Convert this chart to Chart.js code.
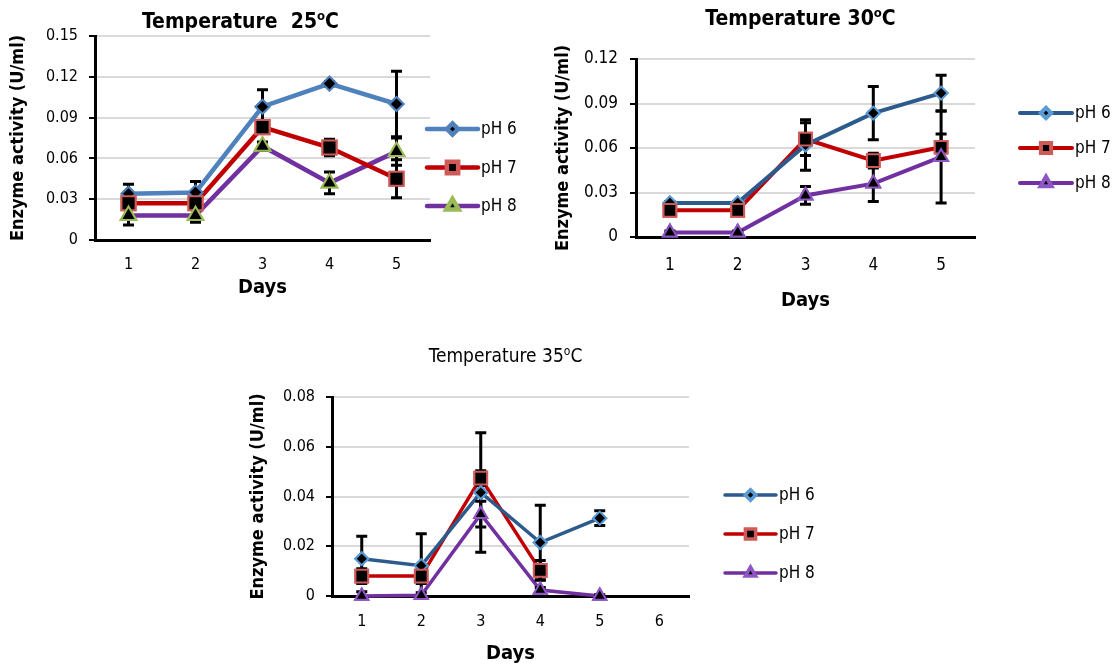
<!DOCTYPE html>
<html lang="en">
  <head>
    <meta charset="UTF-8" />
    <title>Enzyme activity by temperature</title>
    <script src="https://cdn.jsdelivr.net/npm/chart.js"></script>
    <style>
      body {
        margin: 0;
        background: #ffffff;
      }
      .page {
        position: relative;
        width: 1118px;
        height: 666px;
      }
      .page canvas {
        position: absolute;
      }
      #c25 { left: 0; top: 0; }
      #c30 { left: 545px; top: 0; }
      #c35 { left: 240px; top: 333px; }
    </style>
  </head>
  <body>
    <div class="page">
      <canvas id="c25" width="545" height="300"></canvas>
      <canvas id="c30" width="573" height="320"></canvas>
      <canvas id="c35" width="580" height="333"></canvas>
    </div>

    <script>
      // ---- data ----
      const days5 = ["1", "2", "3", "4", "5"];
      const days6 = ["1", "2", "3", "4", "5", "6"];
      const seriesNames = ["pH 6", "pH 7", "pH 8"];

      // 25 C
      const ph6_25 = [0.034, 0.035, 0.098, 0.115, 0.1];
      const err6_25 = [0.007, 0.008, 0.0125, 0.0015, 0.024];
      const ph7_25 = [0.027, 0.027, 0.083, 0.068, 0.045];
      const err7_25 = [0.001, 0.001, 0.0045, 0.006, 0.014];
      const ph8_25 = [0.018, 0.018, 0.069, 0.042, 0.065];
      const err8_25 = [0.007, 0.005, 0.003, 0.008, 0.01];
      const yTicks25 = [0, 0.03, 0.06, 0.09, 0.12, 0.15];

      // 30 C
      const ph6_30 = [0.023, 0.023, 0.062, 0.0835, 0.097];
      const err6_30 = [0.001, 0.001, 0.017, 0.018, 0.012];
      const ph7_30 = [0.018, 0.018, 0.066, 0.0515, 0.0605];
      const err7_30 = [0.001, 0.001, 0.011, 0.005, 0.009];
      const ph8_30 = [0.003, 0.003, 0.028, 0.036, 0.054];
      const err8_30 = [0.001, 0.001, 0.006, 0.012, 0.031];
      const yTicks30 = [0, 0.03, 0.06, 0.09, 0.12];

      // 35 C
      const ph6_35 = [0.015, 0.0122, 0.0416, 0.0215, 0.0313, null];
      const err6_35 = [0.009, 0.0128, 0.024, 0.015, 0.003, null];
      const ph7_35 = [0.008, 0.008, 0.0474, 0.0103, null, null];
      const err7_35 = [0.003, 0.003, 0.003, 0.004, null, null];
      const ph8_35 = [0, 0.0003, 0.0329, 0.0024, 0, null];
      const err8_35 = [0.0017, 0.001, 0.0052, 0.001, 0.0005, null];
      const yTicks35 = [0, 0.02, 0.04, 0.06, 0.08];

      const title25 = ["Temperature  25", "o", "C"];
      const title30 = ["Temperature 30", "o", "C"];
      const title35 = ["Temperature 35", "o", "C"];

      const FONT = "'Liberation Sans Narrow', 'DejaVu Sans Condensed', 'Liberation Sans', sans-serif";
      Chart.defaults.font.family = FONT;
      Chart.defaults.color = "#000";

      // error bars, then markers again so they sit on top
      const errorBars = {
        id: "errorBars",
        afterDatasetsDraw(chart) {
          const ctx = chart.ctx;
          const y = chart.scales.y;
          ctx.save();
          ctx.strokeStyle = "#000";
          ctx.lineWidth = 3;
          chart.data.datasets.forEach((ds, i) => {
            const meta = chart.getDatasetMeta(i);
            meta.data.forEach((pt, j) => {
              const v = ds.data[j];
              const e = ds.errors ? ds.errors[j] : null;
              if (v == null || !e) return;
              const x = pt.x;
              const top = y.getPixelForValue(v + e);
              const clipped = v - e < y.min;
              const bot = y.getPixelForValue(clipped ? y.min : v - e);
              ctx.beginPath();
              ctx.moveTo(x, top);
              ctx.lineTo(x, bot);
              ctx.moveTo(x - 5.5, top);
              ctx.lineTo(x + 5.5, top);
              if (!clipped) {
                ctx.moveTo(x - 5.5, bot);
                ctx.lineTo(x + 5.5, bot);
              }
              ctx.stroke();
            });
          });
          ctx.restore();
          chart.data.datasets.forEach((ds, i) => {
            chart.getDatasetMeta(i).data.forEach((pt) => pt.draw(ctx));
          });
        },
      };

      // title with a raised "o"
      const sketchTitle = {
        id: "sketchTitle",
        afterDraw(chart, args, opts) {
          const ctx = chart.ctx;
          const [main, sup, tail] = opts.parts;
          const f = opts.size;
          const w = opts.bold ? "bold " : "";
          const big = w + f + "px " + FONT;
          const small = w + Math.round(f * 0.62) + "px " + FONT;
          ctx.save();
          ctx.font = big;
          const w1 = ctx.measureText(main).width;
          const w3 = ctx.measureText(tail).width;
          ctx.font = small;
          const w2 = ctx.measureText(sup).width;
          const area = chart.chartArea;
          let x = (area.left + area.right) / 2 + opts.dx - (w1 + w2 + w3) / 2;
          ctx.fillStyle = "#000";
          ctx.textBaseline = "alphabetic";
          ctx.textAlign = "left";
          ctx.font = big;
          ctx.fillText(main, x, opts.baseline);
          x += w1;
          ctx.font = small;
          ctx.fillText(sup, x, opts.baseline - f * 0.38);
          x += w2;
          ctx.font = big;
          ctx.fillText(tail, x, opts.baseline);
          ctx.restore();
        },
      };

      // legend: line with marker, label to the right
      const sideLegend = {
        id: "sideLegend",
        afterDraw(chart, args, opts) {
          const ctx = chart.ctx;
          ctx.save();
          chart.data.datasets.forEach((ds, i) => {
            const y = opts.top + i * opts.gap;
            const x0 = opts.left;
            const x1 = x0 + opts.lineLength;
            ctx.strokeStyle = ds.borderColor;
            ctx.lineWidth = ds.borderWidth;
            ctx.lineCap = "round";
            ctx.beginPath();
            ctx.moveTo(x0, y);
            ctx.lineTo(x1, y);
            ctx.stroke();
            ctx.fillStyle = ds.pointBackgroundColor;
            ctx.strokeStyle = ds.pointBorderColor;
            Chart.helpers.drawPoint(
              ctx,
              {
                pointStyle: ds.pointStyle,
                radius: ds.pointRadius * 0.8,
                borderWidth: ds.pointBorderWidth,
                rotation: 0,
              },
              (x0 + x1) / 2,
              y
            );
            ctx.fillStyle = "#000";
            ctx.font = opts.size + "px " + FONT;
            ctx.textBaseline = "middle";
            ctx.textAlign = "left";
            ctx.fillText(ds.label, x1 + 3, y + 1);
          });
          ctx.restore();
        },
      };

      function makeSeries(label, data, errors, style) {
        return Object.assign(
          {
            label: label,
            data: data,
            errors: errors,
            pointBackgroundColor: "#000",
            pointBorderWidth: 2,
            tension: 0,
            clip: false,
            spanGaps: false,
          },
          style
        );
      }

      function makeChart(id, cfg) {
        new Chart(document.getElementById(id), {
          type: "line",
          data: { labels: cfg.labels, datasets: cfg.datasets },
          plugins: [errorBars, sketchTitle, sideLegend],
          options: {
            responsive: false,
            animation: false,
            layout: { padding: { top: cfg.top, right: cfg.right, left: 0, bottom: 0 } },
            plugins: {
              legend: { display: false },
              title: { display: false },
              tooltip: { enabled: false },
              sketchTitle: cfg.title,
              sideLegend: cfg.legend,
            },
            scales: {
              x: {
                offset: true,
                grid: { display: false, drawTicks: false },
                border: { display: true, color: "#000", width: 3 },
                ticks: { padding: cfg.xPad, font: { size: cfg.tickSize } },
                title: {
                  display: true,
                  text: "Days",
                  font: { size: 20, weight: "bold" },
                  padding: { top: 0, bottom: cfg.daysPad },
                },
                afterFit(scale) {
                  scale.height = cfg.xHeight;
                },
              },
              y: {
                min: 0,
                max: cfg.yTicks[cfg.yTicks.length - 1],
                afterBuildTicks(scale) {
                  scale.ticks = cfg.yTicks.map((v) => ({ value: v }));
                },
                grid: {
                  color: "#d9d9d9",
                  lineWidth: 2,
                  tickColor: "#000",
                  tickLength: 6,
                  tickWidth: 2,
                },
                border: { display: true, color: "#000", width: 3 },
                ticks: {
                  padding: cfg.yPad,
                  font: { size: cfg.tickSize },
                  callback: (v) => (v === 0 ? "0" : v.toFixed(2)),
                },
                title: {
                  display: true,
                  text: "Enzyme activity (U/ml)",
                  font: { size: 18, weight: "bold" },
                  padding: { top: 8, bottom: 0 },
                },
                afterFit(scale) {
                  scale.width = cfg.yWidth;
                },
              },
            },
          },
        });
      }

      // 25 C: lighter blue, green-edged triangles
      makeChart("c25", {
        labels: days5,
        yTicks: yTicks25,
        top: 36,
        right: 115,
        yWidth: 95,
        xHeight: 60,
        xPad: 15,
        daysPad: 0,
        yPad: 11,
        tickSize: 16,
        title: { parts: title25, size: 21, bold: true, dx: -22, baseline: 28 },
        legend: { left: 427, top: 129, gap: 38.5, lineLength: 51, size: 17 },
        datasets: [
          makeSeries(seriesNames[0], ph6_25, err6_25, {
            borderColor: "#4f81bd", borderWidth: 4.5,
            pointStyle: "rectRot", pointRadius: 7, pointBorderColor: "#4f81bd",
          }),
          makeSeries(seriesNames[1], ph7_25, err7_25, {
            borderColor: "#c00000", borderWidth: 4.5,
            pointStyle: "rect", pointRadius: 10, pointBorderColor: "#d05a58",
          }),
          makeSeries(seriesNames[2], ph8_25, err8_25, {
            borderColor: "#7030a0", borderWidth: 4.5,
            pointStyle: "triangle", pointRadius: 9, pointBorderColor: "#9bbb59",
          }),
        ],
      });

      // 30 C
      makeChart("c30", {
        labels: days5,
        yTicks: yTicks30,
        top: 59,
        right: 143,
        yWidth: 91,
        xHeight: 83,
        xPad: 18,
        daysPad: 7,
        yPad: 12,
        tickSize: 17,
        title: { parts: title30, size: 21, bold: true, dx: -5, baseline: 25 },
        legend: { left: 475, top: 113, gap: 35, lineLength: 52, size: 17 },
        datasets: [
          makeSeries(seriesNames[0], ph6_30, err6_30, {
            borderColor: "#2c5a8c", borderWidth: 4,
            pointStyle: "rectRot", pointRadius: 6.5, pointBorderColor: "#5b9bd5",
          }),
          makeSeries(seriesNames[1], ph7_30, err7_30, {
            borderColor: "#c00000", borderWidth: 4,
            pointStyle: "rect", pointRadius: 9, pointBorderColor: "#d05a58",
          }),
          makeSeries(seriesNames[2], ph8_30, err8_30, {
            borderColor: "#7030a0", borderWidth: 4,
            pointStyle: "triangle", pointRadius: 8, pointBorderColor: "#8e55c4",
          }),
        ],
      });

      // 35 C
      makeChart("c35", {
        labels: days6,
        yTicks: yTicks35,
        top: 64,
        right: 131,
        yWidth: 92,
        xHeight: 70,
        xPad: 16,
        daysPad: 0,
        yPad: 11,
        tickSize: 16,
        title: { parts: title35, size: 19, bold: false, dx: -5, baseline: 29 },
        legend: { left: 485, top: 162, gap: 39, lineLength: 51, size: 17 },
        datasets: [
          makeSeries(seriesNames[0], ph6_35, err6_35, {
            borderColor: "#2c5a8c", borderWidth: 3.5,
            pointStyle: "rectRot", pointRadius: 6.5, pointBorderColor: "#5b9bd5",
          }),
          makeSeries(seriesNames[1], ph7_35, err7_35, {
            borderColor: "#c00000", borderWidth: 3.5,
            pointStyle: "rect", pointRadius: 9, pointBorderColor: "#d05a58",
          }),
          makeSeries(seriesNames[2], ph8_35, err8_35, {
            borderColor: "#7030a0", borderWidth: 3.5,
            pointStyle: "triangle", pointRadius: 7.5, pointBorderColor: "#8e55c4",
          }),
        ],
      });
    </script>
  </body>
</html>
